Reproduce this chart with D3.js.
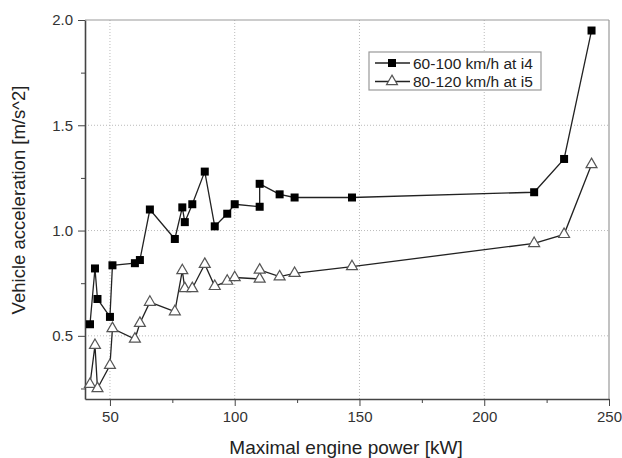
<!DOCTYPE html>
<html>
<head>
<meta charset="utf-8">
<script src="https://cdn.jsdelivr.net/npm/d3@7"></script>
<style>
  body { margin: 0; background: #fff; }
  svg { font-family: "Liberation Sans", Arial, sans-serif; }
  .grid line { stroke: #bbb; stroke-dasharray: 1,2; }
  .axis path, .axis line { stroke: #444; }
  .axis text { fill: #333; font-size: 15px; }
</style>
</head>
<body>
<div id="chart"></div>
<script>
// puissance (kW) et accélération (m/s^2)
var power = [42, 44, 45, 50, 51, 60, 62, 66, 76, 79, 80, 83, 88, 92, 97, 100, 110, 110, 118, 124, 147, 220, 232, 243];
var acc60_100 = [0.555, 0.82, 0.675, 0.59, 0.835, 0.845, 0.86, 1.10, 0.96, 1.11, 1.04, 1.125, 1.28, 1.02, 1.08, 1.125, 1.113, 1.222, 1.172, 1.157, 1.157, 1.182, 1.34, 1.95];
var acc80_120 = [0.27, 0.455, 0.25, 0.36, 0.535, 0.485, 0.56, 0.66, 0.615, 0.81, 0.725, 0.725, 0.84, 0.735, 0.76, 0.777, 0.77, 0.813, 0.781, 0.797, 0.829, 0.939, 0.982, 1.314];
var seriesNames = ["60-100 km/h at i4", "80-120 km/h at i5"];
var xTicks = [50, 100, 150, 200, 250];
var yTicks = [0.5, 1.0, 1.5, 2.0];

var W = 622, H = 458;
var margin = { top: 20, right: 13, bottom: 59, left: 85 };
var width = W - margin.left - margin.right;
var height = H - margin.top - margin.bottom;

var svg = d3.select("#chart").append("svg")
  .attr("width", W)
  .attr("height", H);

var g = svg.append("g").attr("transform", `translate(${margin.left},${margin.top})`);

// Echelles
var x = d3.scaleLinear().domain([40, 250]).range([0, width]);
var y = d3.scaleLinear().domain([0.2, 2.0]).range([height, 0]);

// grille pointillée
g.append("g").attr("class", "grid")
  .selectAll("line").data(xTicks.filter(d => d < 250)).join("line")
  .attr("x1", d => x(d)).attr("x2", d => x(d))
  .attr("y1", 0).attr("y2", height);
g.append("g").attr("class", "grid")
  .selectAll("line").data(yTicks.filter(d => d < 2.0)).join("line")
  .attr("x1", 0).attr("x2", width)
  .attr("y1", d => y(d)).attr("y2", d => y(d));

// cadre haut / droite
g.append("line").attr("x1", 0).attr("x2", width).attr("y1", 0).attr("y2", 0)
  .attr("stroke", "#999").attr("stroke-width", 1.2);
g.append("line").attr("x1", width).attr("x2", width).attr("y1", 0).attr("y2", height)
  .attr("stroke", "#999").attr("stroke-width", 1.2);

// Axes (+ graduations mineures)
var minorX = [75, 125, 175, 225];
var minorY = [0.25, 0.75, 1.25, 1.75];

var gx = g.append("g").attr("class", "axis")
  .attr("transform", `translate(0,${height})`)
  .call(d3.axisBottom(x).tickValues(xTicks).tickFormat(d3.format("d")).tickSize(7).tickSizeOuter(0).tickPadding(5));
gx.select(".domain").attr("stroke-width", 1.6);
g.append("g").attr("class", "axis")
  .attr("transform", `translate(0,${height})`)
  .call(d3.axisBottom(x).tickValues(minorX).tickFormat("").tickSize(4).tickSizeOuter(0))
  .select(".domain").remove();

var gy = g.append("g").attr("class", "axis")
  .call(d3.axisLeft(y).tickValues(yTicks).tickFormat(d3.format(".1f")).tickSize(7).tickSizeOuter(0).tickPadding(5));
gy.select(".domain").attr("stroke-width", 1.6);
g.append("g").attr("class", "axis")
  .call(d3.axisLeft(y).tickValues(minorY).tickFormat("").tickSize(4).tickSizeOuter(0))
  .select(".domain").remove();

// titres des axes
svg.append("text")
  .attr("x", margin.left + width / 2 - 1).attr("y", 454)
  .attr("text-anchor", "middle").attr("font-size", 19).attr("fill", "#222")
  .text("Maximal engine power [kW]");
svg.append("text")
  .attr("transform", `translate(25,200) rotate(-90)`)
  .attr("text-anchor", "middle").attr("font-size", 18.5).attr("fill", "#222")
  .text("Vehicle acceleration [m/s^2]");

// courbes
var line = d3.line().x(d => x(d[0])).y(d => y(d[1]));
var s1 = power.map((p, i) => [p, acc60_100[i]]);
var s2 = power.map((p, i) => [p, acc80_120[i]]);

g.append("path").datum(s2).attr("d", line)
  .attr("fill", "none").attr("stroke", "#222").attr("stroke-width", 1.3);
g.append("path").datum(s1).attr("d", line)
  .attr("fill", "none").attr("stroke", "#222").attr("stroke-width", 1.3);

var tri = d3.symbol().type(d3.symbolTriangle).size(52);

g.selectAll(".tri").data(s2).join("path")
  .attr("class", "tri")
  .attr("d", tri)
  .attr("transform", d => `translate(${x(d[0])},${y(d[1])})`)
  .attr("fill", "#fff").attr("stroke", "#555").attr("stroke-width", 1.2);

g.selectAll(".sq").data(s1).join("rect")
  .attr("class", "sq")
  .attr("x", d => x(d[0]) - 4).attr("y", d => y(d[1]) - 4)
  .attr("width", 8).attr("height", 8)
  .attr("fill", "#000");

// Légende
var lg = svg.append("g").attr("transform", "translate(369,52)");
lg.append("rect").attr("width", 172).attr("height", 38)
  .attr("fill", "#fff").attr("stroke", "#999").attr("stroke-width", 1.2);
seriesNames.forEach(function(name, i) {
  var cy = 11 + i * 18.5;
  lg.append("line").attr("x1", 6).attr("x2", 41).attr("y1", cy).attr("y2", cy)
    .attr("stroke", "#222").attr("stroke-width", 1.3);
  if (i == 0) {
    lg.append("rect").attr("x", 19).attr("y", cy - 4).attr("width", 8).attr("height", 8).attr("fill", "#000");
  } else {
    lg.append("path").attr("d", tri).attr("transform", `translate(23,${cy})`)
      .attr("fill", "#fff").attr("stroke", "#555").attr("stroke-width", 1.2);
  }
  lg.append("text").attr("x", 44).attr("y", cy + 5.5)
    .attr("font-size", 15.5).attr("fill", "#222")
    .text(name);
});
</script>
</body>
</html>
